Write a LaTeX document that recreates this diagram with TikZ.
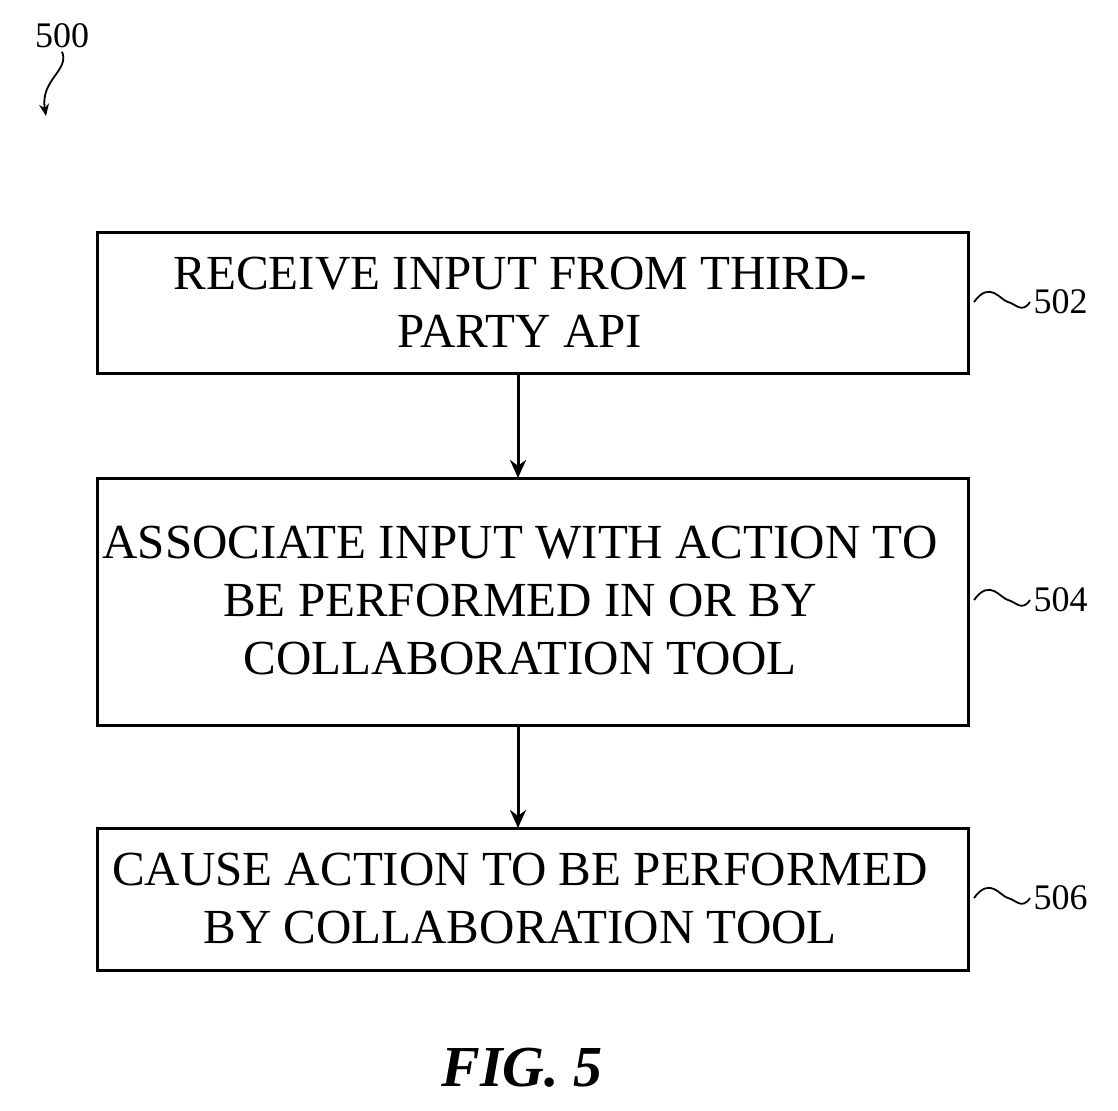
\documentclass[tikz,border=0pt]{standalone}
\usepackage{fontspec}
\setmainfont{Liberation Serif}
\usetikzlibrary{arrows.meta}
\begin{document}
\begin{tikzpicture}[x=1pt,y=-1pt,
  box/.style={draw,line width=3pt,inner sep=0pt},
  txt/.style={align=center,font=\fontsize{49}{58}\selectfont},
  lab/.style={font=\fontsize{36}{40}\selectfont,anchor=west},
  arr/.style={line width=3pt,-{Stealth[length=18pt,width=16pt]}},
  sq/.style={line width=1.8pt}]
\useasboundingbox (0,0) rectangle (1118,1110);
\draw[box] (97,232) rectangle (968,373);
\node[txt] (t1) at (520,302) {RECEIVE INPUT FROM THIRD-\\PARTY API};
\draw[box] (97,478) rectangle (968,725);
\node[txt] (t2) at (520,601) {ASSOCIATE INPUT WITH ACTION TO\\BE PERFORMED IN OR BY\\COLLABORATION TOOL};
\draw[box] (97,828) rectangle (968,970);
\node[txt] (t3) at (520,899) {CAUSE ACTION TO BE PERFORMED\\BY COLLABORATION TOOL};
\coordinate (a1) at (518,373); \coordinate (b1) at (518,478);
\coordinate (a2) at (518,725); \coordinate (b2) at (518,828);
\draw[arr] (a1) -- (b1);
\draw[arr] (a2) -- (b2);
\foreach \y/\n in {302/502,600/504,898/506}{
  \node[lab] (l\n) at (1030,\y) {\n};
  \draw[sq] (974,\y) .. controls (990,\y-22) and (1000,\y-2) .. (1008,\y) .. controls (1016,\y+2) and (1022,\y+12) .. (l\n.west);
}
\node[font=\fontsize{36}{40}\selectfont] (l500) at (62,36) {500};
\coordinate (e500) at (46,116);
\draw[sq,-{Stealth[length=12pt,width=10pt]}] (l500.south) .. controls (70,70) and (40,80) .. (e500);
\node[font=\fontsize{58}{64}\selectfont\bfseries\itshape] (fig) at (522,1068) {FIG. 5};
\end{tikzpicture}
\end{document}
